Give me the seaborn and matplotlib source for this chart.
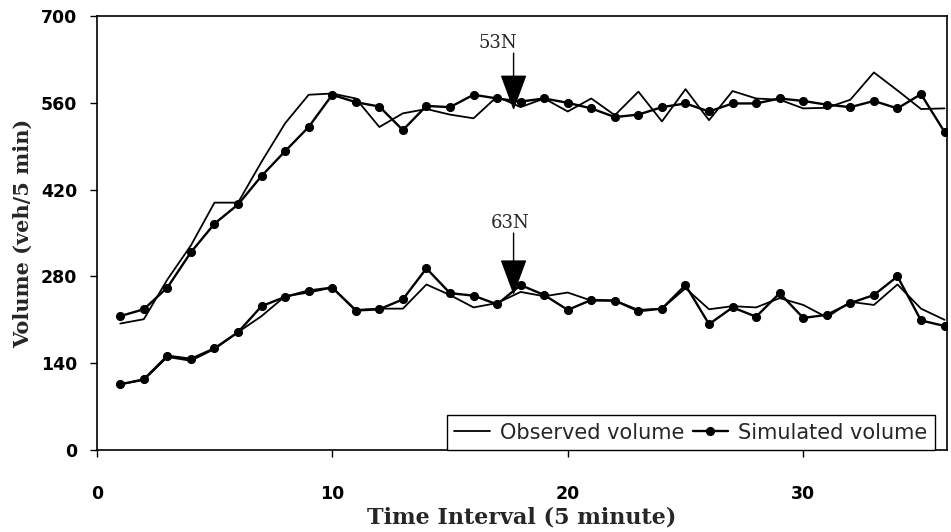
"""Observed vs simulated 5-minute volumes at stations 53N and 63N."""
import matplotlib
matplotlib.use("Agg")
import matplotlib.pyplot as plt
import pandas as pd
import seaborn as sns

# time intervals (5 minute)
intervals = [1, 2, 3, 4, 5, 6, 7, 8, 9, 10, 11, 12, 13, 14, 15, 16, 17, 18,
             19, 20, 21, 22, 23, 24, 25, 26, 27, 28, 29, 30, 31, 32, 33, 34, 35, 36]

# station 53N (upper pair)
obs_53n = [204, 211, 275, 330, 399, 399, 465, 527, 573, 575, 567, 521, 543, 550, 541, 535, 570, 553,
           567, 546, 567, 540, 578, 530, 582, 532, 579, 567, 565, 551, 552, 565, 609, 580, 550, 551]
sim_53n = [216, 227, 262, 319, 365, 396, 442, 482, 521, 573, 561, 554, 516, 555, 553, 573, 567, 562,
           567, 560, 551, 537, 541, 553, 559, 546, 559, 559, 567, 563, 557, 553, 563, 551, 574, 513]

# station 63N (lower pair)
obs_63n = [106, 113, 150, 144, 163, 190, 216, 248, 254, 262, 226, 228, 228, 267, 250, 230, 237, 255,
           248, 254, 241, 241, 226, 228, 261, 227, 232, 230, 245, 234, 214, 239, 234, 267, 228, 210]
sim_63n = [106, 114, 152, 147, 164, 190, 232, 247, 257, 262, 225, 227, 243, 293, 253, 249, 235, 266,
           250, 226, 242, 241, 224, 228, 266, 203, 230, 215, 253, 213, 218, 237, 250, 280, 209, 200]

y_ticks = [0, 140, 280, 420, 560, 700]
x_ticks = [0, 10, 20, 30]

# station labels: (text, arrow x, arrow tip y, arrow tail y, text x, text baseline y)
stations = [
    ("53N", 17.7, 548, 640, 17.05, 648),
    ("63N", 17.7, 250, 350, 17.55, 358),
]

sns.set_style("ticks")
plt.rcParams["font.family"] = ["DejaVu Sans"]

frames = []
for name, obs, sim in [("53N", obs_53n, sim_53n), ("63N", obs_63n, sim_63n)]:
    frames.append(pd.DataFrame({"t": intervals, "volume": obs, "station": name, "kind": "Observed volume"}))
    frames.append(pd.DataFrame({"t": intervals, "volume": sim, "station": name, "kind": "Simulated volume"}))
df = pd.concat(frames, ignore_index=True)

fig = plt.figure(figsize=(9.51, 5.32), dpi=100)
ax = fig.add_axes([0.1017, 0.1541, 0.894, 0.8158])

for i, name in enumerate(["53N", "63N"]):
    sub = df[df["station"] == name]
    obs = sub[sub["kind"] == "Observed volume"]
    sim = sub[sub["kind"] == "Simulated volume"]
    sns.lineplot(data=obs, x="t", y="volume", ax=ax, color="black", linewidth=1.3,
                 label="Observed volume" if i == 0 else None, legend=False)
    sns.lineplot(data=sim, x="t", y="volume", ax=ax, color="black", linewidth=1.7,
                 marker="o", markersize=5.8, markeredgecolor="black",
                 label="Simulated volume" if i == 0 else None, legend=False)

for text, ax_x, tip_y, tail_y, tx, ty in stations:
    ax.annotate("", xy=(ax_x, tip_y), xytext=(ax_x, tail_y),
                arrowprops=dict(arrowstyle="-|>,head_length=2.3,head_width=0.85",
                                mutation_scale=10, color="black", lw=1.0,
                                shrinkA=0, shrinkB=0))
    ax.text(tx, ty, text, ha="center", va="baseline", fontsize=13, family="DejaVu Serif")

ax.set_xlim(0, 36.1)
ax.set_ylim(0, 700)
ax.set_xticks(x_ticks)
ax.set_yticks(y_ticks)
ax.tick_params(axis="both", direction="out", length=5, width=1, labelsize=12.5, colors="black")
ax.tick_params(axis="x", pad=20)
ax.tick_params(axis="y", pad=9)
for lab in ax.get_xticklabels() + ax.get_yticklabels():
    lab.set_fontweight("bold")

for side in ["top", "right", "left", "bottom"]:
    ax.spines[side].set_visible(True)
    ax.spines[side].set_color("black")
    ax.spines[side].set_linewidth(1.2)

ax.set_xlabel("Time Interval (5 minute)", family="DejaVu Serif", fontweight="bold", fontsize=16, labelpad=3)
ax.set_ylabel("Volume (veh/5 min)", family="DejaVu Serif", fontweight="bold", fontsize=15, labelpad=6)

leg = ax.legend(loc="lower right", bbox_to_anchor=(0.986, 0.0), borderaxespad=0, ncol=2,
                fontsize=15, frameon=True, fancybox=False, framealpha=1, edgecolor="black",
                handlelength=1.7, handletextpad=0.5, columnspacing=0.4, borderpad=0.35)
leg.get_frame().set_linewidth(1.0)

fig.savefig("out.png", dpi=100, facecolor="white")
plt.close(fig)
